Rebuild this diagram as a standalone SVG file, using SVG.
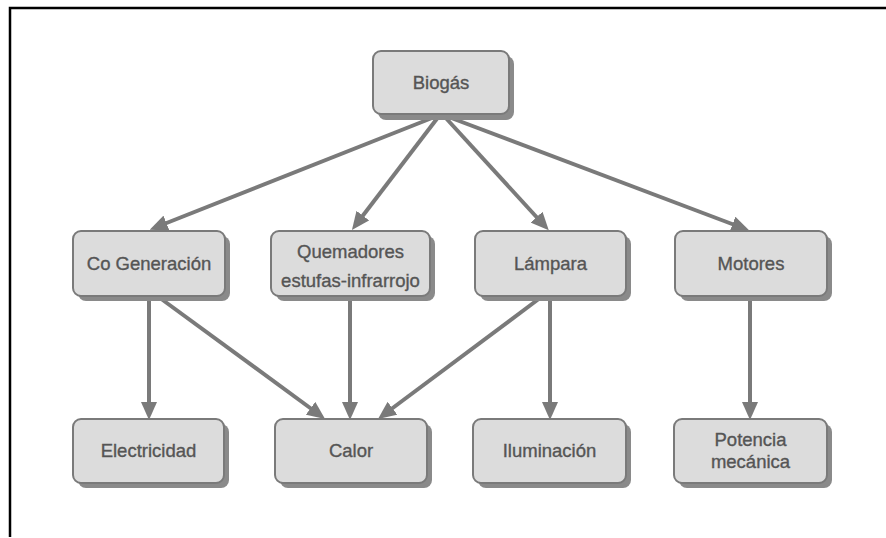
<svg xmlns="http://www.w3.org/2000/svg" width="886" height="538" viewBox="0 0 886 538">
<style>
.sh{fill:#8a8a8a;}
.bx{fill:#dcdcdc;stroke:#7a7a7a;stroke-width:2;}
.t{font-family:"Liberation Sans",Arial,sans-serif;font-size:18.5px;fill:#555;stroke:#555;stroke-width:0.35;text-anchor:middle;}
.c{stroke:#7a7a7a;stroke-width:4;fill:none;marker-end:url(#ah);}
</style>
<defs>
<marker id="ah" markerUnits="userSpaceOnUse" markerWidth="18" markerHeight="16" refX="8" refY="8" orient="auto" viewBox="0 0 18 16">
<path d="M0,0 L18,8 L0,16 z" fill="#7a7a7a"/>
</marker>
</defs>
<rect width="886" height="538" fill="#fff"/>
<path d="M10,537 L10,8 L886,8" fill="none" stroke="#000" stroke-width="2.5"/>
<g id="connectors">
<path class="c" d="M437,116 L159,226"/>
<path class="c" d="M439,116 L358,222"/>
<path class="c" d="M444,116 L542,223"/>
<path class="c" d="M446,116 L740,227"/>
<path class="c" d="M149,298 L149,410"/>
<path class="c" d="M160,298 L317,413"/>
<path class="c" d="M350,298 L350,410"/>
<path class="c" d="M540,298 L386,413"/>
<path class="c" d="M550,298 L550,410"/>
<path class="c" d="M750,298 L750,410"/>
</g>
<g id="biogas">
<rect class="sh" x="378" y="56" width="136" height="64" rx="8"/>
<rect class="bx" x="373" y="51" width="136" height="63" rx="8"/>
<text class="t" x="441" y="89">Biogás</text>
</g>
<g id="cogeneracion">
<rect class="sh" x="78" y="236" width="152" height="65" rx="8"/>
<rect class="bx" x="73" y="231" width="152" height="65" rx="8"/>
<text class="t" x="149" y="270">Co Generación</text>
</g>
<g id="quemadores">
<rect class="sh" x="276" y="236" width="159" height="65" rx="8"/>
<rect class="bx" x="271" y="231" width="159" height="65" rx="8"/>
<text class="t" x="350.5" y="258">Quemadores</text>
<text class="t" x="350.5" y="287">estufas-infrarrojo</text>
</g>
<g id="lampara">
<rect class="sh" x="480" y="236" width="151" height="65" rx="8"/>
<rect class="bx" x="475" y="231" width="151" height="65" rx="8"/>
<text class="t" x="550.5" y="270">Lámpara</text>
</g>
<g id="motores">
<rect class="sh" x="680" y="236" width="152" height="65" rx="8"/>
<rect class="bx" x="675" y="231" width="152" height="65" rx="8"/>
<text class="t" x="751" y="270">Motores</text>
</g>
<g id="electricidad">
<rect class="sh" x="78" y="424" width="151" height="64" rx="8"/>
<rect class="bx" x="73" y="419" width="151" height="64" rx="8"/>
<text class="t" x="148.5" y="457">Electricidad</text>
</g>
<g id="calor">
<rect class="sh" x="280" y="424" width="152" height="64" rx="8"/>
<rect class="bx" x="275" y="419" width="152" height="64" rx="8"/>
<text class="t" x="351" y="457">Calor</text>
</g>
<g id="iluminacion">
<rect class="sh" x="478" y="424" width="153" height="64" rx="8"/>
<rect class="bx" x="473" y="419" width="153" height="64" rx="8"/>
<text class="t" x="549.5" y="457">Iluminación</text>
</g>
<g id="potencia">
<rect class="sh" x="679" y="424" width="153" height="64" rx="8"/>
<rect class="bx" x="674" y="419" width="153" height="64" rx="8"/>
<text class="t" x="750.5" y="446">Potencia</text>
<text class="t" x="750.5" y="468">mecánica</text>
</g>
</svg>
